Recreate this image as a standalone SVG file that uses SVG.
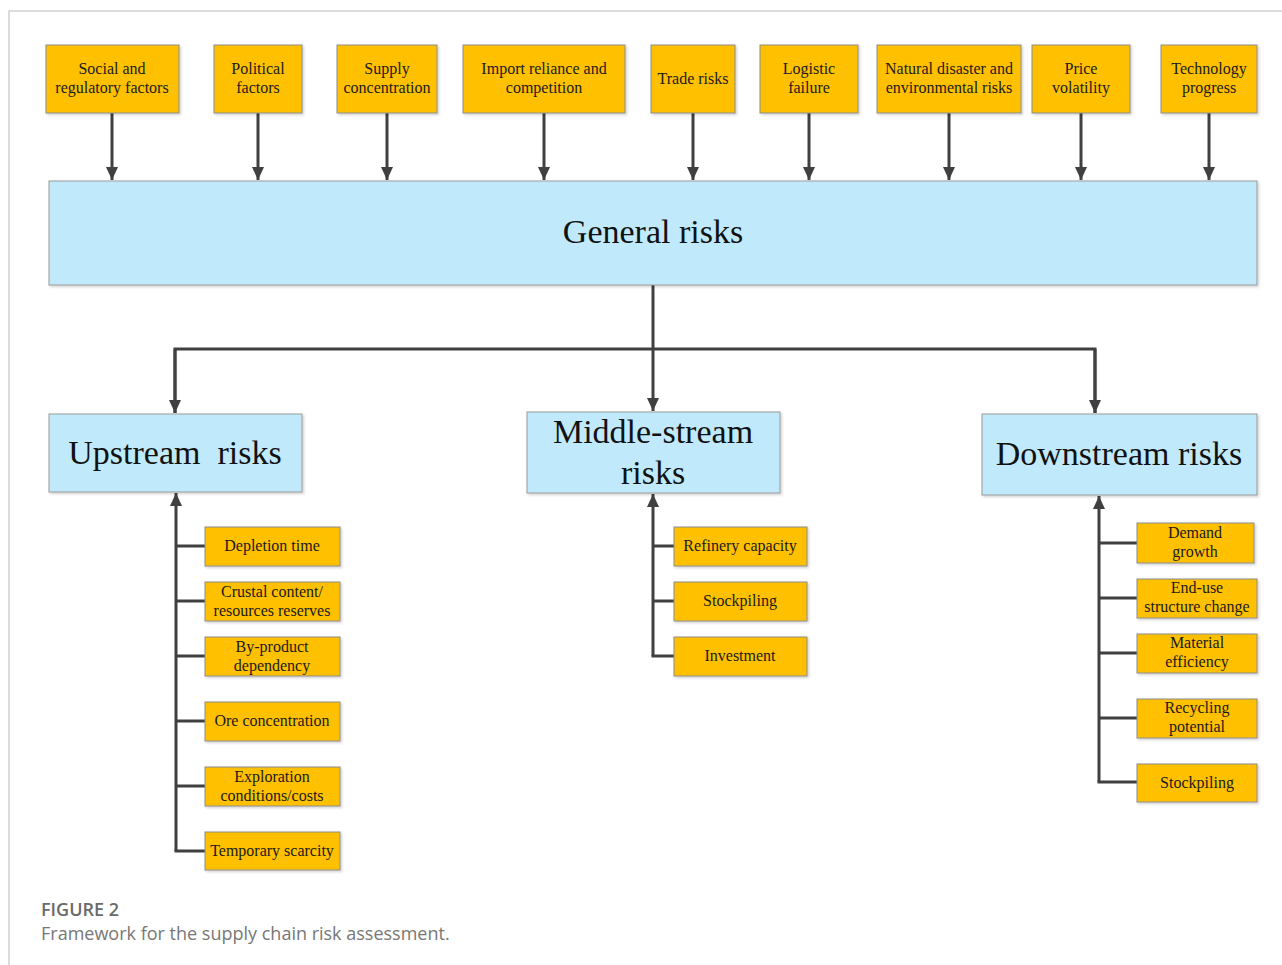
<svg xmlns="http://www.w3.org/2000/svg" width="1282" height="965" viewBox="0 0 1282 965">
<style>
.frame{stroke:#d0d0d0;stroke-width:1.5;fill:none}
.ob{fill:#FFC000;stroke:#8c8c8c;stroke-width:1;filter:url(#sh)}
.bb{fill:#C0EAFB;stroke:#9a9a9a;stroke-width:1;filter:url(#sh)}
.t{font-family:"Liberation Serif","Times New Roman",serif;font-size:16px;fill:#1a1a1a;text-anchor:middle}
.big{font-family:"Liberation Serif","Times New Roman",serif;font-size:34px;fill:#111;text-anchor:middle}
.c{stroke:#404040;stroke-width:3;fill:none}
.ca{stroke:#404040;stroke-width:3;fill:none;marker-end:url(#ah)}
.cap1{font-family:"Open Sans","Noto Sans",sans-serif;font-size:18px;font-weight:600;fill:#6a6a6a}
.cap2{font-family:"Open Sans","Noto Sans",sans-serif;font-size:18px;fill:#777}
</style>
<defs>
<marker id="ah" markerWidth="13" markerHeight="13" viewBox="0 0 13 13" refX="13" refY="6.5" orient="auto" markerUnits="userSpaceOnUse">
<path d="M0,0.5 L13,6.5 L0,12.5 z" fill="#404040"/>
</marker>
<filter id="sh" x="-5%" y="-5%" width="110%" height="115%">
<feDropShadow dx="1.5" dy="1.5" stdDeviation="1" flood-color="#000" flood-opacity="0.18"/>
</filter>
</defs>
<rect width="1282" height="965" fill="#fff"/>
<path class="frame" d="M1282,11 H9 V965"/>

<g id="connectors">
<line class="ca" x1="112" y1="113" x2="112" y2="180"/>
<line class="ca" x1="258" y1="113" x2="258" y2="180"/>
<line class="ca" x1="387" y1="113" x2="387" y2="180"/>
<line class="ca" x1="544" y1="113" x2="544" y2="180"/>
<line class="ca" x1="693" y1="113" x2="693" y2="180"/>
<line class="ca" x1="809" y1="113" x2="809" y2="180"/>
<line class="ca" x1="949" y1="113" x2="949" y2="180"/>
<line class="ca" x1="1081" y1="113" x2="1081" y2="180"/>
<line class="ca" x1="1209" y1="113" x2="1209" y2="180"/>
<line class="c" x1="653" y1="285" x2="653" y2="349"/>
<path class="c" d="M175,413 V349 H1095 V413"/>
<line class="ca" x1="175" y1="349" x2="175" y2="413"/>
<line class="ca" x1="653" y1="349" x2="653" y2="411"/>
<line class="ca" x1="1095" y1="349" x2="1095" y2="413"/>
<line class="ca" x1="176" y1="851" x2="176" y2="493"/>
<path class="c" d="M176,546 H206 M176,601 H206 M176,656 H206 M176,721 H206 M176,786 H206 M174.5,851 H206"/>
<line class="ca" x1="653" y1="656" x2="653" y2="494"/>
<path class="c" d="M653,546 H675 M653,601 H675 M651.5,656 H675"/>
<line class="ca" x1="1099" y1="782" x2="1099" y2="496"/>
<path class="c" d="M1099,543 H1138 M1099,598 H1138 M1099,653 H1138 M1099,718 H1138 M1097.5,782 H1138"/>
</g>

<g id="n-social"><rect class="ob" x="46" y="45" width="133" height="68"/><text class="t" x="112" y="74">Social and</text><text class="t" x="112" y="93">regulatory factors</text></g>
<g id="n-political"><rect class="ob" x="214" y="45" width="88" height="68"/><text class="t" x="258" y="74">Political</text><text class="t" x="258" y="93">factors</text></g>
<g id="n-supply"><rect class="ob" x="337" y="45" width="100" height="68"/><text class="t" x="387" y="74">Supply</text><text class="t" x="387" y="93">concentration</text></g>
<g id="n-import"><rect class="ob" x="463" y="45" width="162" height="68"/><text class="t" x="544" y="74">Import reliance and</text><text class="t" x="544" y="93">competition</text></g>
<g id="n-trade"><rect class="ob" x="651" y="45" width="84" height="68"/><text class="t" x="693" y="84">Trade risks</text></g>
<g id="n-logistic"><rect class="ob" x="760" y="45" width="98" height="68"/><text class="t" x="809" y="74">Logistic</text><text class="t" x="809" y="93">failure</text></g>
<g id="n-natural"><rect class="ob" x="877" y="45" width="144" height="68"/><text class="t" x="949" y="74">Natural disaster and</text><text class="t" x="949" y="93">environmental risks</text></g>
<g id="n-price"><rect class="ob" x="1032" y="45" width="98" height="68"/><text class="t" x="1081" y="74">Price</text><text class="t" x="1081" y="93">volatility</text></g>
<g id="n-tech"><rect class="ob" x="1161" y="45" width="96" height="68"/><text class="t" x="1209" y="74">Technology</text><text class="t" x="1209" y="93">progress</text></g>

<g id="n-general"><rect class="bb" x="49" y="181" width="1208" height="104"/><text class="big" x="653" y="243">General risks</text></g>

<g id="n-upstream"><rect class="bb" x="49" y="414" width="253" height="78"/><text class="big" x="175" y="464" xml:space="preserve">Upstream  risks</text></g>
<g id="n-middle"><rect class="bb" x="527" y="412" width="253" height="81"/><text class="big" x="653" y="443">Middle-stream</text><text class="big" x="653" y="484">risks</text></g>
<g id="n-downstream"><rect class="bb" x="982" y="414" width="275" height="81"/><text class="big" x="1119" y="465">Downstream risks</text></g>

<g id="n-depletion"><rect class="ob" x="205" y="527" width="135" height="39"/><text class="t" x="272" y="551">Depletion time</text></g>
<g id="n-crustal"><rect class="ob" x="205" y="582" width="135" height="39"/><text class="t" x="272" y="597">Crustal content/</text><text class="t" x="272" y="616">resources reserves</text></g>
<g id="n-byproduct"><rect class="ob" x="205" y="637" width="135" height="39"/><text class="t" x="272" y="652">By-product</text><text class="t" x="272" y="671">dependency</text></g>
<g id="n-ore"><rect class="ob" x="205" y="702" width="135" height="39"/><text class="t" x="272" y="726">Ore concentration</text></g>
<g id="n-exploration"><rect class="ob" x="205" y="767" width="135" height="39"/><text class="t" x="272" y="782">Exploration</text><text class="t" x="272" y="801">conditions/costs</text></g>
<g id="n-temporary"><rect class="ob" x="205" y="832" width="135" height="38"/><text class="t" x="272" y="856">Temporary scarcity</text></g>

<g id="n-refinery"><rect class="ob" x="674" y="527" width="133" height="39"/><text class="t" x="740" y="551">Refinery capacity</text></g>
<g id="n-stock1"><rect class="ob" x="674" y="582" width="133" height="39"/><text class="t" x="740" y="606">Stockpiling</text></g>
<g id="n-investment"><rect class="ob" x="674" y="637" width="133" height="39"/><text class="t" x="740" y="661">Investment</text></g>

<g id="n-demand"><rect class="ob" x="1137" y="523" width="117" height="40"/><text class="t" x="1195" y="538">Demand</text><text class="t" x="1195" y="557">growth</text></g>
<g id="n-enduse"><rect class="ob" x="1137" y="579" width="120" height="39"/><text class="t" x="1197" y="593">End-use</text><text class="t" x="1197" y="612">structure change</text></g>
<g id="n-material"><rect class="ob" x="1137" y="634" width="120" height="39"/><text class="t" x="1197" y="648">Material</text><text class="t" x="1197" y="667">efficiency</text></g>
<g id="n-recycling"><rect class="ob" x="1137" y="699" width="120" height="39"/><text class="t" x="1197" y="713">Recycling</text><text class="t" x="1197" y="732">potential</text></g>
<g id="n-stock2"><rect class="ob" x="1137" y="764" width="120" height="38"/><text class="t" x="1197" y="788">Stockpiling</text></g>

<g id="caption">
<text class="cap1" x="41" y="916">FIGURE 2</text>
<text class="cap2" x="41" y="940">Framework for the supply chain risk assessment.</text>
</g>
</svg>
